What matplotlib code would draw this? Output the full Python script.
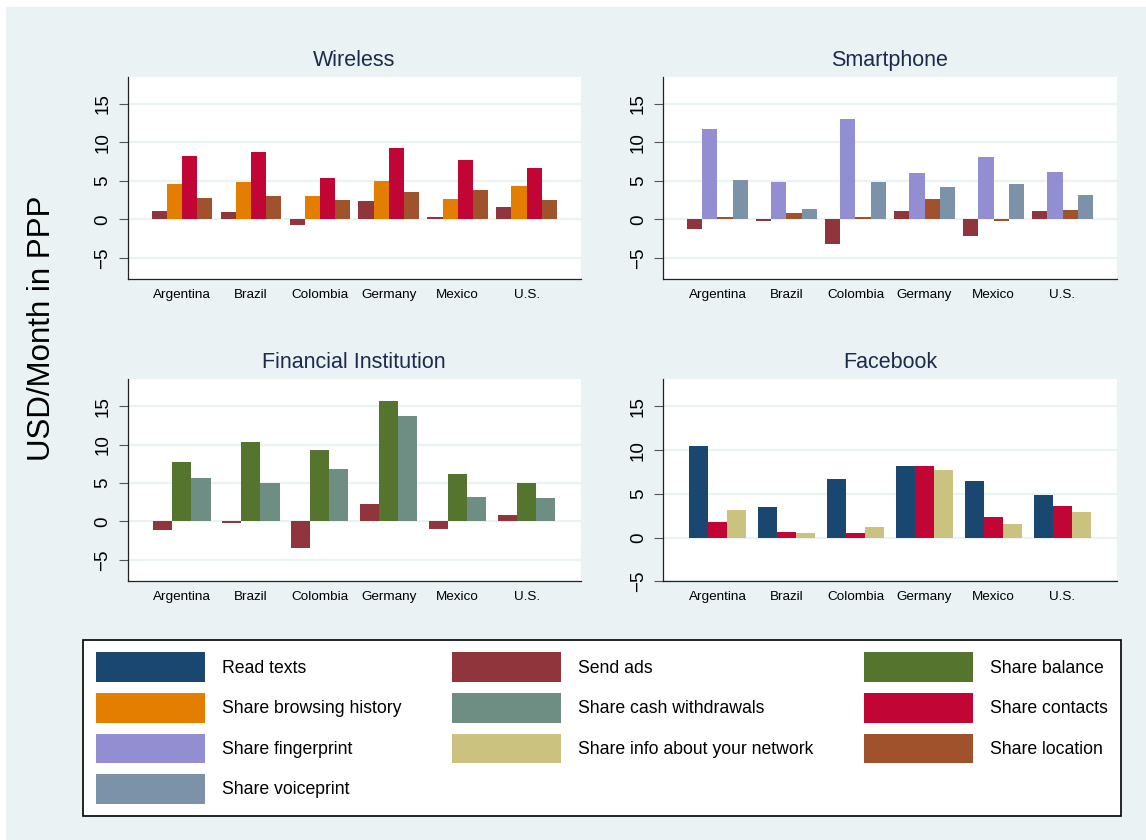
import numpy as np
import matplotlib
matplotlib.use("Agg")
import matplotlib.pyplot as plt
from matplotlib.patches import Patch, Rectangle

plt.rcParams["font.family"] = ["Liberation Sans", "DejaVu Sans"]

# --- data ---
countries = ["Argentina", "Brazil", "Colombia", "Germany", "Mexico", "U.S."]

# Wireless
send_ads_wireless = [1.08, 0.95, -0.74, 2.39, 0.30, 1.60]
browsing_wireless = [4.60, 4.86, 3.04, 5.03, 2.65, 4.34]
contacts_wireless = [8.24, 8.76, 5.38, 9.32, 7.72, 6.68]
location_wireless = [2.78, 3.04, 2.52, 3.56, 3.82, 2.52]

# Smartphone
send_ads_smart = [-1.26, -0.17, -3.20, 1.08, -2.17, 1.08]
fingerprint_smart = [11.75, 4.86, 13.05, 6.03, 8.11, 6.16]
location_smart = [0.30, 0.82, 0.30, 2.65, -0.22, 1.21]
voiceprint_smart = [5.11, 1.34, 4.86, 4.20, 4.60, 3.16]

# Financial Institution
send_ads_fin = [-1.13, -0.22, -3.47, 2.25, -1.00, 0.82]
balance_fin = [7.72, 10.32, 9.28, 15.65, 6.16, 4.98]
cash_fin = [5.64, 4.98, 6.81, 13.70, 3.16, 3.03]

# Facebook
read_texts_fb = [10.50, 3.51, 6.72, 8.20, 6.49, 4.89]
contacts_fb = [1.79, 0.65, 0.53, 8.20, 2.37, 3.63]
network_fb = [3.17, 0.53, 1.22, 7.75, 1.56, 2.94]

legend_labels = ["Read texts", "Send ads", "Share balance",
                 "Share browsing history", "Share cash withdrawals", "Share contacts",
                 "Share fingerprint", "Share info about your network", "Share location",
                 "Share voiceprint"]
legend_colors = ["#1A476F", "#90353B", "#55752F",
                 "#E37E00", "#6E8E84", "#C10534",
                 "#938DD2", "#CAC27E", "#A0522D",
                 "#7B92A8"]
colors = dict(zip(legend_labels, legend_colors))

BG = "#EAF2F3"
W, H = 1146, 840

panels = [
    ("Wireless", [("Send ads", send_ads_wireless), ("Share browsing history", browsing_wireless),
                  ("Share contacts", contacts_wireless), ("Share location", location_wireless)],
     (127.7, 77, 580.7, 279.3), (-7.8, 18.5)),
    ("Smartphone", [("Send ads", send_ads_smart), ("Share fingerprint", fingerprint_smart),
                    ("Share location", location_smart), ("Share voiceprint", voiceprint_smart)],
     (663.3, 77, 1116.7, 279.3), (-7.8, 18.5)),
    ("Financial Institution", [("Send ads", send_ads_fin), ("Share balance", balance_fin),
                               ("Share cash withdrawals", cash_fin)],
     (127.7, 379.3, 580.7, 581.3), (-7.8, 18.5)),
    ("Facebook", [("Read texts", read_texts_fb), ("Share contacts", contacts_fb),
                  ("Share info about your network", network_fb)],
     (663.3, 379.3, 1116.7, 581.3), (-5.0, 18.1)),
]

fig = plt.figure(figsize=(W / 100, H / 100), dpi=100, facecolor="white")
fig.patches.append(Rectangle((6 / W, 0), 1 - 6 / W, 1 - 7 / H, transform=fig.transFigure,
                             facecolor=BG, edgecolor="none", zorder=-10))

x = np.arange(len(countries))
for title, series, (l, t, r, b), ylim in panels:
    ax = fig.add_axes([l / W, 1 - b / H, (r - l) / W, (b - t) / H])
    ax.set_facecolor("white")
    n = len(series)
    bw = 0.219 if n == 4 else 0.278
    for k, (lab, vals) in enumerate(series):
        ax.bar(x + (k - (n - 1) / 2) * bw, vals, bw, color=colors[lab], linewidth=0, zorder=2)
    ax.set_xlim(-0.785, 5.785)
    ax.set_ylim(*ylim)
    ax.set_yticks([-5, 0, 5, 10, 15])
    ax.set_xticks(x, countries)
    ax.yaxis.grid(True, color=BG, linewidth=1.6, zorder=0)
    ax.set_axisbelow(True)
    for s in ["top", "right"]:
        ax.spines[s].set_visible(False)
    for s in ["left", "bottom"]:
        ax.spines[s].set_color("#222222")
        ax.spines[s].set_linewidth(0.9)
    ax.tick_params(axis="x", length=0, pad=7, labelsize=9.7)
    ax.tick_params(axis="y", length=6.8, width=0.8, color="#555555", labelsize=13.5, pad=5)
    for lbl in ax.get_yticklabels():
        lbl.set_rotation(90)
        lbl.set_va("center")
    ax.set_title(title, fontsize=15.5, color="#1C2A4C", pad=8)

fig.text(42 / W, 1 - 328 / H, "USD/Month in PPP", rotation=90, fontsize=22.5,
         ha="center", va="center")

# legend: matplotlib fills column-major, reference fills row-major
order = [0, 3, 6, 9, 1, 4, 7, 2, 5, 8]
handles = [Patch(facecolor=legend_colors[i], edgecolor="none") for i in order]
labels = [legend_labels[i] for i in order]
leg = fig.legend(handles, labels, ncol=3, loc="upper left", mode="expand",
                 bbox_to_anchor=(83.3 / W, 0, (1120.7 - 83.3) / W, 1 - 640 / H),
                 borderaxespad=0, fontsize=12.7, handlelength=6.18, handleheight=2.21,
                 handletextpad=1.0, labelspacing=0.62, borderpad=0.7,
                 fancybox=False, frameon=True)
leg.get_frame().set_edgecolor("black")
leg.get_frame().set_linewidth(1.2)
leg.get_frame().set_facecolor("white")
leg.get_frame().set_alpha(1)

fig.savefig("out.png", dpi=100, facecolor="white")
